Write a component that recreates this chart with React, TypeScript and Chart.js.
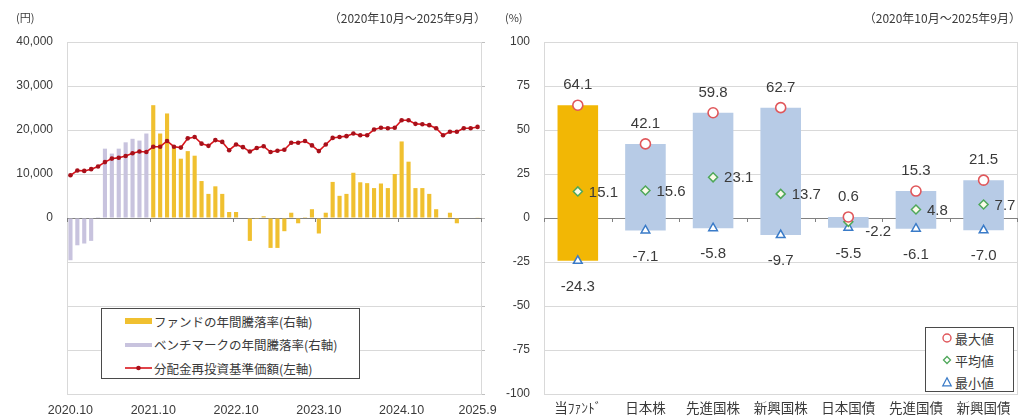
import React, { useEffect, useRef } from 'react';
import { Chart, registerables } from 'chart.js';

Chart.register(...registerables);

const NUM_FONT = '"Liberation Sans", "Noto Sans CJK JP", sans-serif';
const CJK_FONT = '"Noto Sans CJK JP", "Liberation Sans", sans-serif';
const TEXT = '#3a3a3a';
const GRID = '#d9d9d9';
const ZERO = '#808080';

// ---------- left chart data ----------
const monthLabels: string[] = [
  '2020.10', '2020.11', '2020.12', '2021.1', '2021.2', '2021.3', '2021.4', '2021.5', '2021.6', '2021.7', '2021.8', '2021.9',
  '2021.10', '2021.11', '2021.12', '2022.1', '2022.2', '2022.3', '2022.4', '2022.5', '2022.6', '2022.7', '2022.8', '2022.9',
  '2022.10', '2022.11', '2022.12', '2023.1', '2023.2', '2023.3', '2023.4', '2023.5', '2023.6', '2023.7', '2023.8', '2023.9',
  '2023.10', '2023.11', '2023.12', '2024.1', '2024.2', '2024.3', '2024.4', '2024.5', '2024.6', '2024.7', '2024.8', '2024.9',
  '2024.10', '2024.11', '2024.12', '2025.1', '2025.2', '2025.3', '2025.4', '2025.5', '2025.6', '2025.7', '2025.8', '2025.9',
];
const shownMonthLabels = ['2020.10', '2021.10', '2022.10', '2023.10', '2024.10', '2025.9'];
const boundaryMonths = [0, 12, 24, 36, 48, 60];

const navValues: number[] = [
  9700, 10800, 10700, 11100, 11700, 12700, 13500, 13700, 14100, 14700, 15100, 15000,
  16200, 16200, 17500, 16200, 16000, 18100, 18400, 16900, 16400, 17700, 17300, 15400,
  16700, 16100, 15100, 15900, 16300, 15000, 15300, 15500, 17100, 17100, 17500, 16500,
  15200, 16700, 18200, 18400, 18600, 19200, 18800, 18800, 20100, 20500, 20400, 20500,
  22200, 22200, 21400, 21300, 21100, 20400, 18800, 19600, 19600, 20400, 20400, 20700,
];

const fundReturns: (number | null)[] = [
  null, null, null, null, null, null, null, null, null, null, null, null,
  64.1, 48, 59.4, 40, 33.7, 38, 35.4, 21, 13.7, 18, 13.7, 3.4,
  3.4, 0.3, -13, -0.5, 1, -17, -17, -7.5, 3, -3, 0.5, 5,
  -8.8, 3, 20.5, 12.6, 13.7, 25.7, 20.3, 19.8, 17, 19.6, 17, 25,
  43.5, 32, 17, 17, 13.7, 5, 0.3, 3, -3, 0.3, -0.3, 0.2,
];

const benchReturns: (number | null)[] = [
  -24, -15.5, -14.5, -13, 0.5, 39.4, 36.6, 39.4, 43, 45, 44, 48,
  null, null, null, null, null, null, null, null, null, null, null, null,
  null, null, null, null, null, null, null, null, null, null, null, null,
  null, null, null, null, null, null, null, null, null, null, null, null,
  null, null, null, null, null, null, null, null, null, null, null, null,
];

// ---------- right chart data ----------
const assetClasses = ['当ﾌｧﾝﾄﾞ', '日本株', '先進国株', '新興国株', '日本国債', '先進国債', '新興国債'];
const maxValues = [64.1, 42.1, 59.8, 62.7, 0.6, 15.3, 21.5];
const avgValues = [15.1, 15.6, 23.1, 13.7, -2.2, 4.8, 7.7];
const minValues = [-24.3, -7.1, -5.8, -9.7, -5.5, -6.1, -7.0];

const FUND_COLOR = '#F2B705';
const FUND_COLOR_LEFT = '#F0C030';
const BENCH_COLOR = '#C8C3DE';
const ASSET_COLOR = '#B7CBE6';
const NAV_COLOR = '#D9141B';
const MAX_COLOR = '#E0575B';
const AVG_COLOR = '#4FA85A';
const MIN_COLOR = '#3A7BC8';

const leftTickPlugin = {
  id: 'leftTicks',
  afterDraw(chart: any) {
    const { ctx } = chart;
    const x = chart.scales.x;
    const y0 = chart.scales.y1.getPixelForValue(0);
    const w = (x.right - x.left) / monthLabels.length;
    ctx.save();
    ctx.strokeStyle = ZERO;
    ctx.lineWidth = 1;
    boundaryMonths.forEach((i) => {
      const px = Math.round(x.left + i * w) + 0.5;
      ctx.beginPath();
      ctx.moveTo(px, y0);
      ctx.lineTo(px, y0 + 4);
      ctx.stroke();
    });
    ctx.restore();
  },
};

const rightPlugin = {
  id: 'rightLabels',
  afterDraw(chart: any) {
    const { ctx } = chart;
    const x = chart.scales.x;
    const y0 = chart.scales.y.getPixelForValue(0);
    const w = (x.right - x.left) / assetClasses.length;
    ctx.save();
    ctx.strokeStyle = ZERO;
    ctx.lineWidth = 1;
    for (let i = 0; i <= assetClasses.length; i++) {
      const px = Math.round(x.left + i * w) + 0.5;
      ctx.beginPath();
      ctx.moveTo(px, y0);
      ctx.lineTo(px, y0 + 4);
      ctx.stroke();
    }
    ctx.fillStyle = TEXT;
    ctx.font = '15px ' + NUM_FONT;
    const maxMeta = chart.getDatasetMeta(0);
    const avgMeta = chart.getDatasetMeta(1);
    const minMeta = chart.getDatasetMeta(2);
    maxMeta.data.forEach((pt: any, i: number) => {
      ctx.textAlign = 'center';
      ctx.textBaseline = 'middle';
      ctx.fillText(maxValues[i].toFixed(1), pt.x, pt.y - 20);
    });
    avgMeta.data.forEach((pt: any, i: number) => {
      ctx.textAlign = 'left';
      ctx.textBaseline = 'middle';
      const below = avgValues[i] < 0;
      ctx.fillText(avgValues[i].toFixed(1), pt.x + (below ? 17 : 11), pt.y + (below ? 10 : 1));
    });
    minMeta.data.forEach((pt: any, i: number) => {
      ctx.textAlign = 'center';
      ctx.textBaseline = 'middle';
      ctx.fillText(minValues[i].toFixed(1), pt.x, pt.y + 26);
    });
    ctx.restore();
  },
};

function LeftChart() {
  const ref = useRef<HTMLCanvasElement>(null);
  useEffect(() => {
    if (!ref.current) return;
    const chart = new Chart(ref.current, {
      type: 'bar',
      data: {
        labels: monthLabels,
        datasets: [
          {
            type: 'line',
            label: '分配金再投資基準価額(左軸)',
            data: navValues,
            yAxisID: 'y',
            borderColor: NAV_COLOR,
            borderWidth: 1.6,
            pointRadius: 2.3,
            pointBackgroundColor: '#A8101A',
            pointBorderColor: '#A8101A',
            pointBorderWidth: 0,
            tension: 0,
            order: 0,
          } as any,
          {
            type: 'bar',
            label: 'ファンドの年間騰落率(右軸)',
            data: fundReturns,
            yAxisID: 'y1',
            backgroundColor: FUND_COLOR_LEFT,
            barPercentage: 0.6,
            categoryPercentage: 1,
            grouped: false,
            order: 1,
          } as any,
          {
            type: 'bar',
            label: 'ベンチマークの年間騰落率(右軸)',
            data: benchReturns,
            yAxisID: 'y1',
            backgroundColor: BENCH_COLOR,
            barPercentage: 0.6,
            categoryPercentage: 1,
            grouped: false,
            order: 2,
          } as any,
        ],
      },
      options: {
        responsive: false,
        animation: false,
        layout: { padding: { top: 42, left: 0, right: 0, bottom: 0 } },
        plugins: { legend: { display: false }, tooltip: { enabled: false } },
        scales: {
          x: {
            type: 'category',
            offset: true,
            grid: { display: false, drawTicks: false },
            border: { display: false },
            ticks: {
              autoSkip: false,
              maxRotation: 0,
              minRotation: 0,
              padding: 9,
              color: TEXT,
              font: { size: 12.5, family: NUM_FONT },
              callback: (_v: any, i: number) =>
                shownMonthLabels.includes(monthLabels[i]) ? monthLabels[i] : '',
            },
            afterFit: (s: any) => {
              s.height = 24;
              s.paddingLeft = 0;
              s.paddingRight = 0;
            },
          },
          y: {
            position: 'left',
            min: -40000,
            max: 40000,
            ticks: {
              stepSize: 10000,
              padding: 14,
              color: TEXT,
              font: { size: 12, family: NUM_FONT },
              callback: (v: any) => (Number(v) < 0 ? '' : Number(v).toLocaleString('en-US')),
            },
            grid: {
              drawTicks: false,
              color: (c: any) => (c.tick && c.tick.value === 0 ? ZERO : GRID),
            },
            border: { display: true, color: GRID },
            afterFit: (s: any) => {
              s.width = 67;
              s.paddingTop = 0;
              s.paddingBottom = 0;
            },
          },
          y1: {
            position: 'right',
            min: -100,
            max: 100,
            ticks: { display: false, stepSize: 25 },
            grid: { drawOnChartArea: false, drawTicks: true, tickLength: 4, color: '#bfbfbf' },
            border: { display: true, color: GRID },
            afterFit: (s: any) => {
              s.width = 19;
              s.paddingTop = 0;
              s.paddingBottom = 0;
            },
          },
        },
      } as any,
      plugins: [leftTickPlugin],
    });
    return () => chart.destroy();
  }, []);
  return <canvas ref={ref} width={500} height={418} style={{ position: 'absolute', left: 0, top: 0, width: 500, height: 418 }} />;
}

function RightChart() {
  const ref = useRef<HTMLCanvasElement>(null);
  useEffect(() => {
    if (!ref.current) return;
    const chart = new Chart(ref.current, {
      type: 'bar',
      data: {
        labels: assetClasses,
        datasets: [
          {
            type: 'line',
            label: '最大値',
            data: maxValues,
            showLine: false,
            pointStyle: 'circle',
            pointRadius: 5,
            pointBorderWidth: 1.6,
            pointBorderColor: MAX_COLOR,
            pointBackgroundColor: '#ffffff',
            order: 0,
          } as any,
          {
            type: 'line',
            label: '平均値',
            data: avgValues,
            showLine: false,
            pointStyle: 'rectRot',
            pointRadius: 4.5,
            pointBorderWidth: 1.5,
            pointBorderColor: AVG_COLOR,
            pointBackgroundColor: '#fbfbe8',
            order: 1,
          } as any,
          {
            type: 'line',
            label: '最小値',
            data: minValues,
            showLine: false,
            pointStyle: 'triangle',
            pointRadius: 5,
            pointBorderWidth: 1.5,
            pointBorderColor: MIN_COLOR,
            pointBackgroundColor: '#ffffff',
            order: 2,
          } as any,
          {
            type: 'bar',
            label: 'range',
            data: minValues.map((mn, i) => [mn, maxValues[i]]),
            backgroundColor: assetClasses.map((_, i) => (i === 0 ? FUND_COLOR : ASSET_COLOR)),
            barPercentage: 0.6,
            categoryPercentage: 1,
            order: 3,
          } as any,
        ],
      },
      options: {
        responsive: false,
        animation: false,
        layout: { padding: { top: 42, left: 0, right: 5, bottom: 0 } },
        plugins: { legend: { display: false }, tooltip: { enabled: false } },
        scales: {
          x: {
            type: 'category',
            offset: true,
            grid: { display: false, drawTicks: false },
            border: { display: false },
            ticks: {
              maxRotation: 0,
              padding: 6,
              color: TEXT,
              font: { size: 13.5, family: CJK_FONT },
            },
            afterFit: (s: any) => {
              s.height = 24;
              s.paddingLeft = 0;
              s.paddingRight = 0;
            },
          },
          y: {
            min: -100,
            max: 100,
            ticks: {
              stepSize: 25,
              padding: 14,
              color: TEXT,
              font: { size: 12, family: NUM_FONT },
            },
            grid: {
              drawTicks: false,
              color: (c: any) => (c.tick && c.tick.value === 0 ? ZERO : GRID),
            },
            border: { display: true, color: GRID },
            afterFit: (s: any) => {
              s.width = 44;
              s.paddingTop = 0;
              s.paddingBottom = 0;
            },
          },
          yr: {
            position: 'right',
            min: -100,
            max: 100,
            ticks: { display: false },
            grid: { display: false, drawOnChartArea: false, drawTicks: false },
            border: { display: true, color: GRID },
            afterFit: (s: any) => {
              s.width = 0;
            },
          },
        },
      } as any,
      plugins: [rightPlugin],
    });
    return () => chart.destroy();
  }, []);
  return <canvas ref={ref} width={524} height={418} style={{ position: 'absolute', left: 500, top: 0, width: 524, height: 418 }} />;
}

const absText = (style: React.CSSProperties): React.CSSProperties => ({
  position: 'absolute',
  fontFamily: CJK_FONT,
  color: TEXT,
  whiteSpace: 'nowrap',
  lineHeight: 1,
  ...style,
});

function LeftLegend() {
  const rows = [
    { label: 'ファンドの年間騰落率(右軸)', kind: 'fund' },
    { label: 'ベンチマークの年間騰落率(右軸)', kind: 'bench' },
    { label: '分配金再投資基準価額(左軸)', kind: 'nav' },
  ];
  return (
    <div style={{ position: 'absolute', left: 101, top: 308, width: 259, height: 71, border: '1px solid #4a4a4a', background: '#fff', boxSizing: 'border-box' }}>
      {rows.map((r, i) => (
        <div key={r.kind} style={{ position: 'absolute', left: 23, top: 4 + i * 23.5, height: 16, display: 'flex', alignItems: 'center' }}>
          <svg width={28} height={16}>
            {r.kind === 'fund' && <rect x={0} y={5} width={27} height={6} fill={FUND_COLOR_LEFT} />}
            {r.kind === 'bench' && <rect x={0} y={6} width={27} height={4} fill={BENCH_COLOR} />}
            {r.kind === 'nav' && (
              <g>
                <line x1={0} y1={8} x2={27} y2={8} stroke={NAV_COLOR} strokeWidth={1.6} />
                <circle cx={13.5} cy={8} r={2.3} fill="#A8101A" />
              </g>
            )}
          </svg>
          <span style={{ fontFamily: CJK_FONT, fontSize: 12.5, color: TEXT, marginLeft: 1 }}>{r.label}</span>
        </div>
      ))}
    </div>
  );
}

function RightLegend() {
  const rows = [
    { label: '最大値', kind: 'max' },
    { label: '平均値', kind: 'avg' },
    { label: '最小値', kind: 'min' },
  ];
  return (
    <div style={{ position: 'absolute', left: 925, top: 327, width: 89, height: 65, border: '1px solid #4a4a4a', background: '#fff', boxSizing: 'border-box' }}>
      {rows.map((r, i) => (
        <div key={r.kind} style={{ position: 'absolute', left: 15, top: 2 + i * 22, height: 16, display: 'flex', alignItems: 'center' }}>
          <svg width={12} height={12}>
            {r.kind === 'max' && <circle cx={6} cy={6} r={4} fill="#fff" stroke={MAX_COLOR} strokeWidth={1.4} />}
            {r.kind === 'avg' && <polygon points="6,2.5 9.5,6 6,9.5 2.5,6" fill="#fff" stroke={AVG_COLOR} strokeWidth={1.3} />}
            {r.kind === 'min' && <polygon points="6,1.8 10.2,9.8 1.8,9.8" fill="#fff" stroke={MIN_COLOR} strokeWidth={1.3} />}
          </svg>
          <span style={{ fontFamily: CJK_FONT, fontSize: 13, color: TEXT, marginLeft: 2 }}>{r.label}</span>
        </div>
      ))}
    </div>
  );
}

export default function App() {
  return (
    <div style={{ position: 'absolute', left: 0, top: 0, width: 1024, height: 418, background: '#fff', overflow: 'hidden' }}>
      <LeftChart />
      <RightChart />
      <div style={absText({ left: 16, top: 12, fontSize: 11 })}>(円)</div>
      <div style={absText({ right: 1024 - 486, top: 12, fontSize: 12 })}>（2020年10月～2025年9月）</div>
      <div style={absText({ left: 505, top: 12, fontSize: 11 })}>(%)</div>
      <div style={absText({ right: 3, top: 12, fontSize: 12 })}>（2020年10月～2025年9月）</div>
      <LeftLegend />
      <RightLegend />
    </div>
  );
}
